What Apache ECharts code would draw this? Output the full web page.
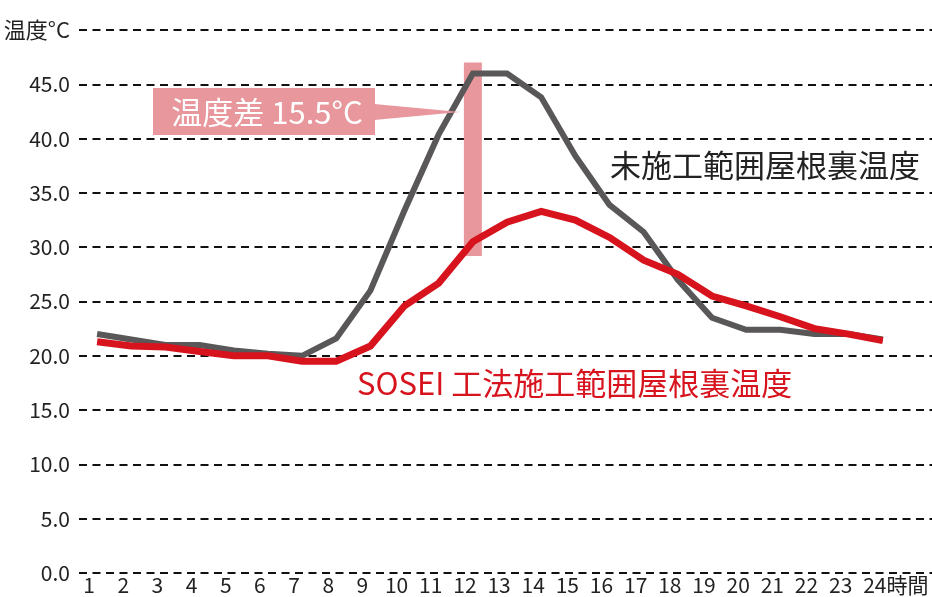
<!DOCTYPE html>
<html>
<head>
<meta charset="utf-8">
<script src="https://cdn.jsdelivr.net/npm/echarts@6/dist/echarts.min.js"></script>
<style>
html,body{margin:0;padding:0;background:#fff;}
#chart{width:932px;height:597px;}
</style>
</head>
<body>
<div id="chart"></div>
<script>
const hours = [1,2,3,4,5,6,7,8,9,10,11,12,13,14,15,16,17,18,19,20,21,22,23,24];
const untreated = [22.0,21.5,21.0,21.0,20.5,20.2,20.0,21.6,26.0,33.4,40.4,46.0,46.0,43.8,38.4,33.9,31.4,27.0,23.5,22.4,22.4,22.0,22.0,21.5];
const sosei = [21.3,20.9,20.8,20.4,20.0,20.0,19.5,19.5,20.9,24.6,26.7,30.5,32.3,33.3,32.5,30.9,28.8,27.5,25.5,24.6,23.6,22.5,22.0,21.4];
const yTicks = [0,5,10,15,20,25,30,35,40,45,50];
const diffBar = [[12, 29.2, 47.0]];
const untreatedName = '未施工範囲屋根裏温度';
const soseiName = 'SOSEI 工法施工範囲屋根裏温度';
const diffText = '温度差 15.5°C';
const yUnit = '温度°C';
const xUnit = '時間';

const FONT = '"Noto Sans CJK JP","Noto Sans",sans-serif';
const PINK = '#e8989c';
const chart = echarts.init(document.getElementById('chart'), null, {renderer:'canvas'});
chart.setOption({
  animation:false,
  backgroundColor:'#fff',
  textStyle:{fontFamily:FONT},
  grid:{left:79, right:0, top:30, bottom:24, containLabel:false},
  xAxis:{
    type:'value', min:0.47, max:25.44,
    axisLine:{show:false}, axisTick:{show:false}, splitLine:{show:false},
    axisLabel:{
      customValues:hours, color:'#222', fontSize:21, fontFamily:FONT, margin:2,
      padding:[0,16,0,0],
      formatter:function(v){ return v===24 ? '{a|24}' + xUnit : String(v); },
      rich:{a:{fontSize:21, fontFamily:FONT, color:'#222', padding:[0,0,0,42]}}
    }
  },
  yAxis:{
    type:'value', min:0, max:50, interval:5,
    axisLine:{show:false}, axisTick:{show:false},
    splitLine:{show:true, lineStyle:{color:'#111', width:2, type:[8,5.5]}},
    axisLabel:{
      color:'#222', fontSize:21, fontFamily:FONT, margin:9,
      formatter:function(v){ return v===50 ? '{u|' + yUnit + '}' : v.toFixed(1); },
      rich:{u:{fontSize:22, fontFamily:FONT, color:'#222'}}
    }
  },
  series:[
    {
      type:'custom', z:1, silent:true,
      data:diffBar,
      renderItem:function(params, api){
        const p1 = api.coord([api.value(0), api.value(2)]);
        const p2 = api.coord([api.value(0), api.value(1)]);
        return {type:'rect', shape:{x:p1[0]-9, y:p1[1], width:18, height:p2[1]-p1[1]}, style:{fill:PINK}};
      }
    },
    {
      name:untreatedName, type:'line', z:3,
      data:hours.map((h,i)=>[h, untreated[i]]),
      symbol:'none', lineStyle:{color:'#595757', width:6, join:'miter'}
    },
    {
      name:soseiName, type:'line', z:4,
      data:hours.map((h,i)=>[h, sosei[i]]),
      symbol:'none', lineStyle:{color:'#d7141e', width:7, join:'miter'}
    }
  ],
  graphic:[
    {type:'rect', z:10, shape:{x:153, y:88, width:222, height:47}, style:{fill:PINK}},
    {type:'polygon', z:10, shape:{points:[[374,104],[374,120],[460,112]]}, style:{fill:PINK}},
    {type:'text', z:11, x:267, y:112, style:{text:diffText, fill:'#fff', font:'31px '+FONT, align:'center', verticalAlign:'middle'}},
    {type:'text', z:11, x:920, y:165, style:{text:untreatedName, fill:'#222', font:'31px '+FONT, align:'right', verticalAlign:'middle'}},
    {type:'text', z:11, x:357, y:383, style:{text:soseiName, fill:'#d7141e', font:'31px '+FONT, align:'left', verticalAlign:'middle'}}
  ]
});
</script>
</body>
</html>
